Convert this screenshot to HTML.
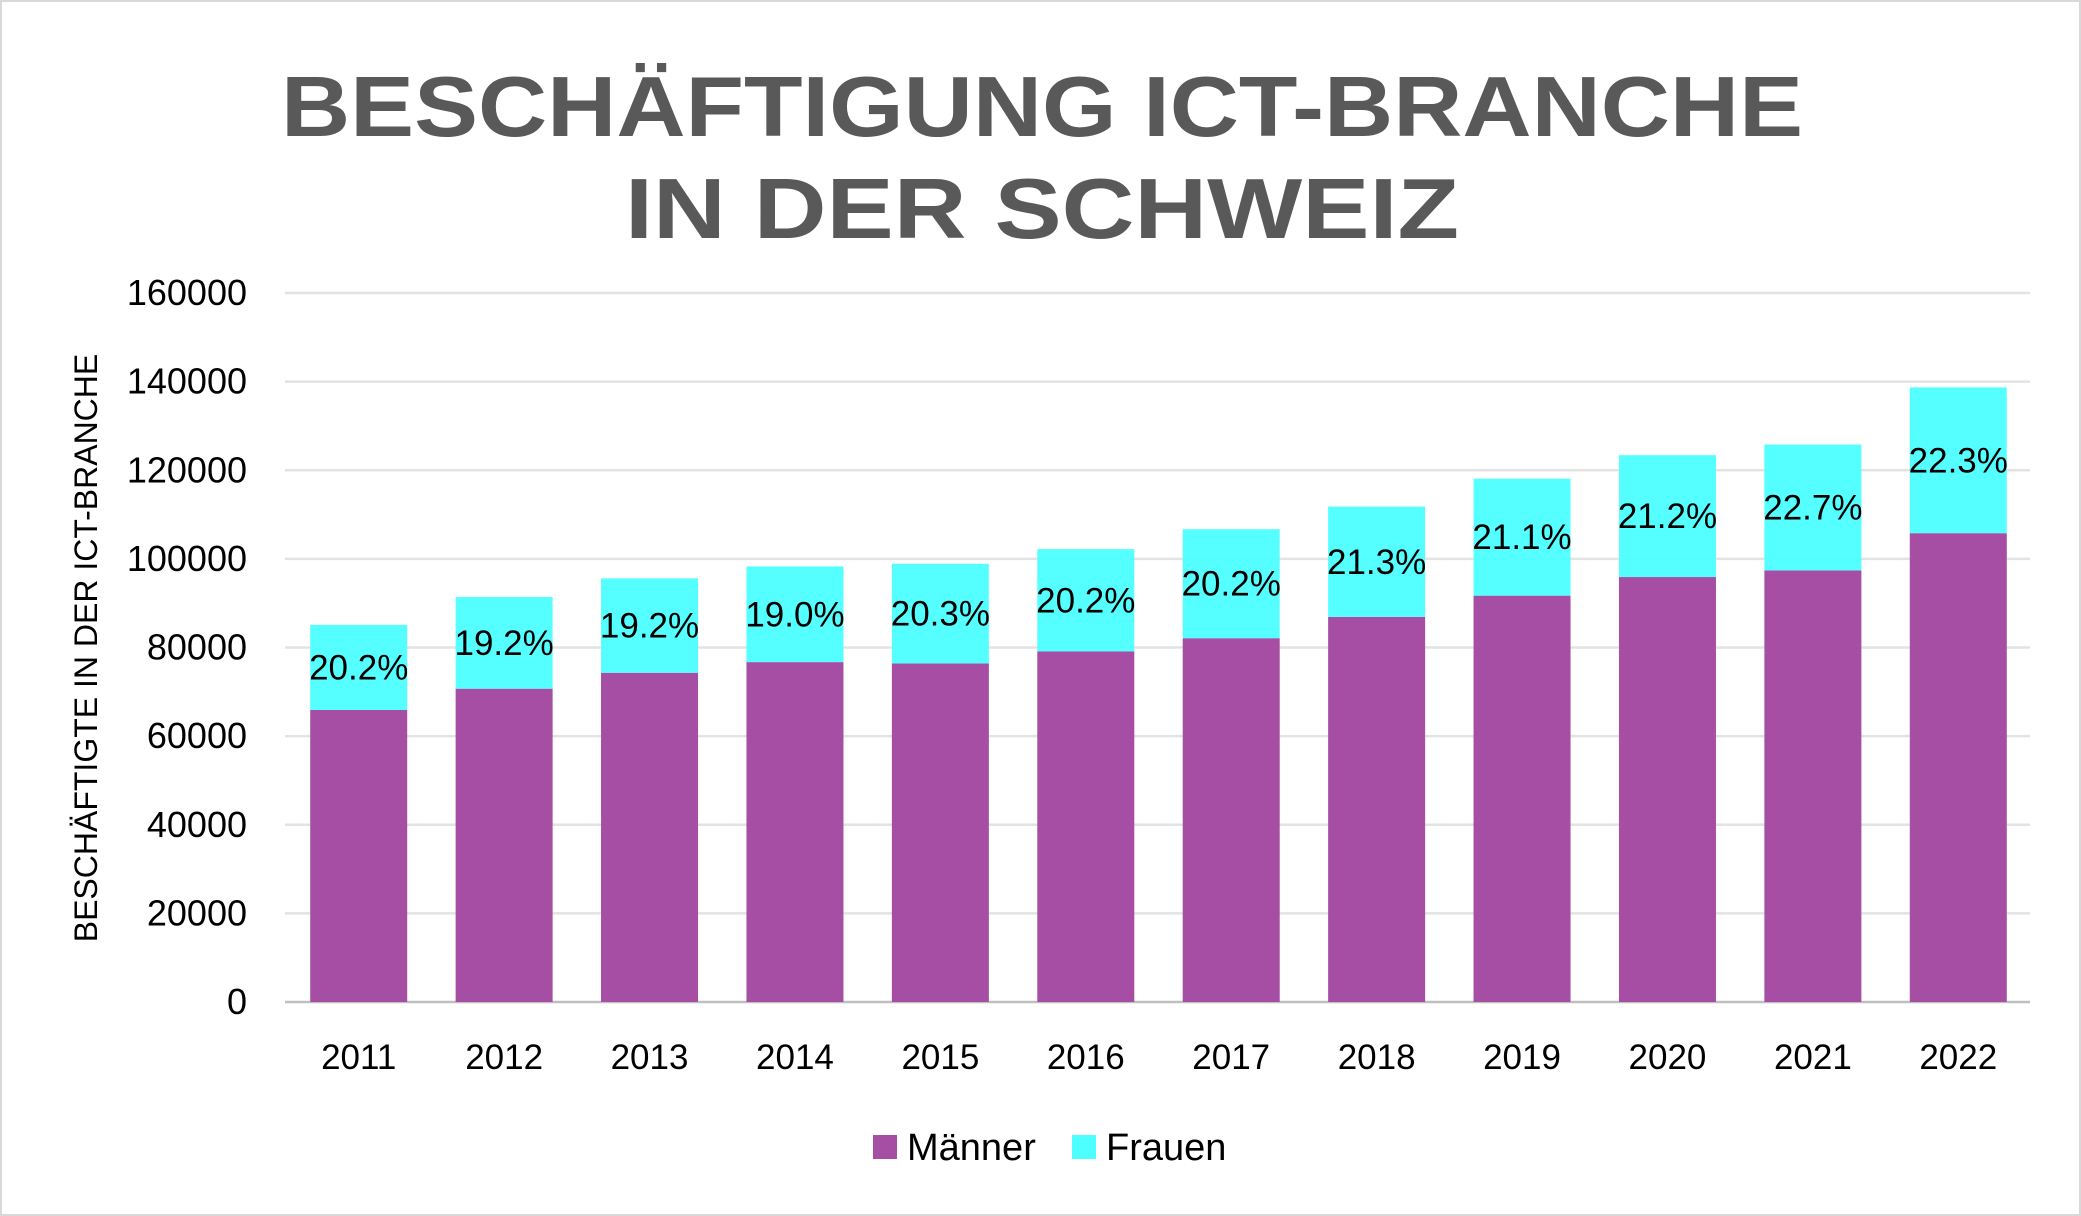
<!DOCTYPE html>
<html><head><meta charset="utf-8"><style>
html,body{margin:0;padding:0;background:#fff}
svg{display:block}
text{font-family:"Liberation Sans","DejaVu Sans",sans-serif}
</style></head><body>
<svg id="chart" width="2081" height="1216" viewBox="0 0 2081 1216" xmlns="http://www.w3.org/2000/svg">
<rect x="1" y="1" width="2079" height="1214" fill="#fff" stroke="#d9d9d9" stroke-width="2"/>
<text x="1042" y="136" text-anchor="middle" font-size="85" font-weight="bold" fill="#595959" textLength="1522" lengthAdjust="spacingAndGlyphs">BESCHÄFTIGUNG ICT-BRANCHE</text>
<text x="1042" y="238" text-anchor="middle" font-size="85" font-weight="bold" fill="#595959" textLength="834" lengthAdjust="spacingAndGlyphs">IN DER SCHWEIZ</text>
<g id="grid"></g>
<g id="bars"></g>
<g id="labels"></g>
<text transform="translate(97,648) rotate(-90)" text-anchor="middle" font-size="32" fill="#000">BESCHÄFTIGTE IN DER ICT-BRANCHE</text>
<g>
<rect x="873" y="1135" width="24" height="24" fill="#a64ea3"/>
<text x="907" y="1160" font-size="38" fill="#000">Männer</text>
<rect x="1072" y="1135" width="24" height="24" fill="#4dffff"/>
<text x="1106" y="1160" font-size="38" fill="#000">Frauen</text>
</g>
</svg>
<script>
const years=["2011","2012","2013","2014","2015","2016","2017","2018","2019","2020","2021","2022"];
const maenner=[65900,70700,74300,76700,76400,79100,82100,86900,91700,95900,97400,105800];
const frauen=[19200,20700,21300,21600,22500,23100,24600,24900,26400,27500,28400,32900];
const pctLabels=["20.2%","19.2%","19.2%","19.0%","20.3%","20.2%","20.2%","21.3%","21.1%","21.2%","22.7%","22.3%"];
const yTicks=[0,20000,40000,60000,80000,100000,120000,140000,160000];
const NS="http://www.w3.org/2000/svg";
const L=285,R=2030,Y0=1002,Y1=293,yMax=160000;
const y=v=>Y0-(v/yMax)*(Y0-Y1);
const step=(R-L)/years.length;
const xc=i=>L+step*(i+0.5)+1;
const bw=97;
function mk(tag,attrs,parent){const e=document.createElementNS(NS,tag);for(const k in attrs)e.setAttribute(k,attrs[k]);parent.appendChild(e);return e;}
const grid=document.getElementById('grid'),bars=document.getElementById('bars'),labels=document.getElementById('labels');
yTicks.forEach(t=>{
  const ln=mk('line',{x1:L,x2:R,y1:y(t),y2:y(t),stroke:t===0?'#bfbfbf':'#e3e3e3','stroke-width':2.5},grid);
  
  
  const tx=mk('text',{x:247,y:y(t)+12,'text-anchor':'end','font-size':36,fill:'#000'},labels);
  tx.textContent=t;
  
  
});
years.forEach((yr,i)=>{
  const m=maenner[i],f=frauen[i];
  const b1=mk('rect',{x:xc(i)-bw/2,y:y(m),width:bw,height:y(0)-y(m),fill:'#a64ea3'},bars);
  
  
  const b2=mk('rect',{x:xc(i)-bw/2,y:y(m+f),width:bw,height:y(m)-y(m+f),fill:'#4dffff','fill-opacity':0.95},bars);
  
  
  const p=mk('text',{x:xc(i),y:(y(m)+y(m+f))/2+12,'text-anchor':'middle','font-size':35,fill:'#000'},labels);
  p.textContent=pctLabels[i];
  
  
  const xl=mk('text',{x:xc(i),y:1069,'text-anchor':'middle','font-size':35,fill:'#000'},labels);
  xl.textContent=yr;
  
  
});
</script>
</body></html>
